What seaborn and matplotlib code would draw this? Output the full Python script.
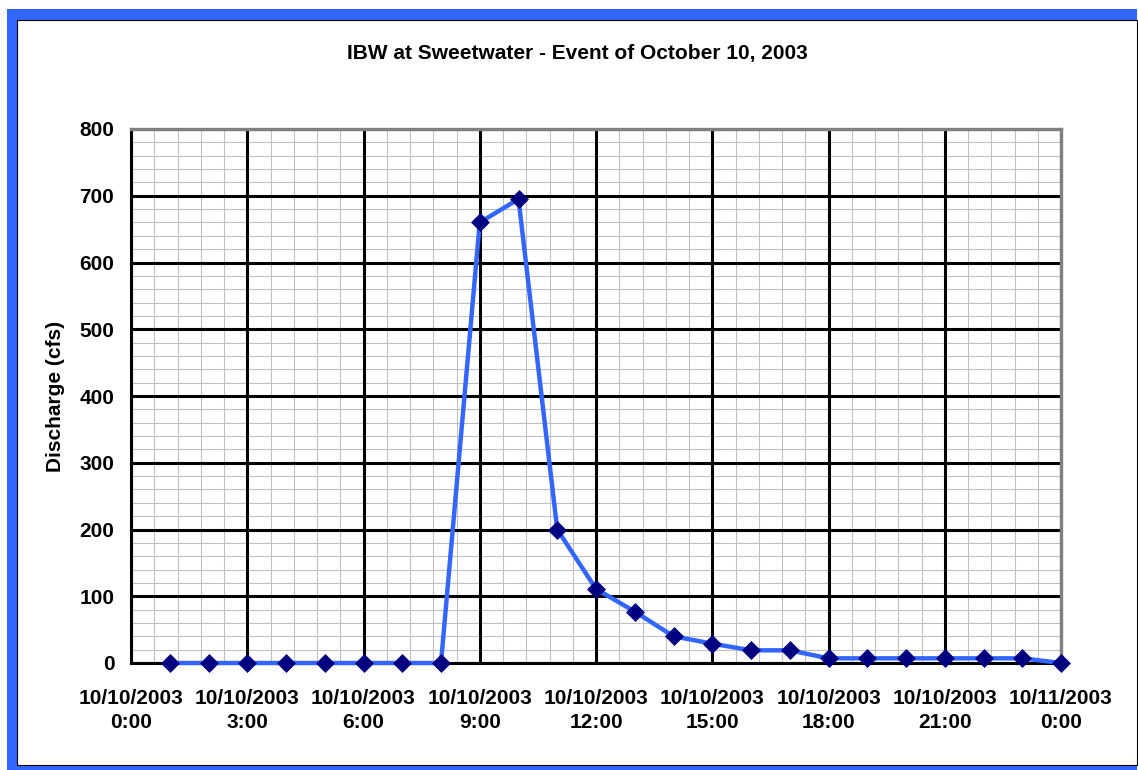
import pandas as pd
import matplotlib
matplotlib.use("Agg")
import matplotlib.pyplot as plt
import matplotlib.dates as mdates
from matplotlib.patches import Rectangle
from matplotlib.ticker import MultipleLocator
import seaborn as sns

# Hourly discharge readings, event of October 10, 2003
start = pd.Timestamp("2003-10-10 00:00")
hours = [1, 2, 3, 4, 5, 6, 7, 8, 9, 10, 11, 12,
         13, 14, 15, 16, 17, 18, 19, 20, 21, 22, 23, 24]
discharge = [0, 0, 0, 0, 0, 0, 0, 0, 660, 695, 200, 111,
             77, 40, 29, 19, 19, 7, 7, 7, 7, 7, 7, 0]
y_ticks = [0, 100, 200, 300, 400, 500, 600, 700, 800]

df = pd.DataFrame({
    "time": start + pd.to_timedelta(hours, unit="h"),
    "discharge": discharge,
})

sns.set_style("white")
plt.rcParams["font.family"] = ["Liberation Sans", "DejaVu Sans"]
plt.rcParams["font.weight"] = "bold"
plt.rcParams["text.color"] = "black"
plt.rcParams["axes.labelcolor"] = "black"
plt.rcParams["xtick.color"] = "black"
plt.rcParams["ytick.color"] = "black"

fig = plt.figure(figsize=(11.38, 7.70), dpi=100)
fig.patch.set_facecolor("white")

# Blue frame like the Excel chart area
fig.patches.append(Rectangle((7 / 1138, 0), 1130 / 1138, 761 / 770,
                             transform=fig.transFigure, facecolor="#3366ff",
                             edgecolor="none", zorder=-2))
fig.patches.append(Rectangle((17 / 1138, 5 / 770), 1120 / 1138, 745 / 770,
                             transform=fig.transFigure, facecolor="white",
                             edgecolor="black", linewidth=0.8, zorder=-1))

ax = fig.add_axes([131 / 1138, 107 / 770, 930 / 1138, 534 / 770])
ax.set_facecolor("white")

sns.lineplot(data=df, x="time", y="discharge", ax=ax, color="#3366ff",
             linewidth=3.2, marker="D", markersize=9,
             markerfacecolor="#000080", markeredgecolor="#000080",
             markeredgewidth=0.5, clip_on=False, zorder=5)

ax.set_xlim(start, start + pd.Timedelta(hours=24))
ax.set_ylim(0, 800)
ax.set_yticks(y_ticks)
ax.yaxis.set_minor_locator(MultipleLocator(20))
ax.xaxis.set_major_locator(mdates.HourLocator(interval=3))
ax.xaxis.set_major_formatter(mdates.DateFormatter("%m/%d/%Y\n%-H:%M"))
ax.xaxis.set_minor_locator(MultipleLocator(0.025))

# minor grid from the axis, major grid drawn on top of it
ax.grid(which="minor", color="#c0c0c0", linewidth=0.8)
ax.grid(which="major", visible=False)
ax.set_axisbelow(True)
for xt in ax.get_xticks():
    ax.axvline(xt, color="black", linewidth=2.2, zorder=1)
for yt in y_ticks:
    ax.axhline(yt, color="black", linewidth=2.2, zorder=1)

ax.tick_params(which="major", direction="out", length=6, width=2.2,
               color="black", labelsize=15, pad=6)
ax.tick_params(axis="x", which="major", pad=13)
ax.tick_params(which="minor", length=0)
for lab in ax.get_xticklabels():
    lab.set_linespacing(1.3)

for side in ["left", "bottom"]:
    ax.spines[side].set_color("black")
    ax.spines[side].set_linewidth(2.2)
for side in ["top", "right"]:
    ax.spines[side].set_color("#808080")
    ax.spines[side].set_linewidth(2.4)

ax.set_xlabel("")
ax.set_ylabel("Discharge (cfs)", fontsize=15, fontweight="bold", labelpad=10)
fig.text(577.5 / 1138, 1 - 53 / 770, "IBW at Sweetwater - Event of October 10, 2003",
         ha="center", va="center", fontsize=15, fontweight="bold")

fig.savefig("out.png", dpi=100)
